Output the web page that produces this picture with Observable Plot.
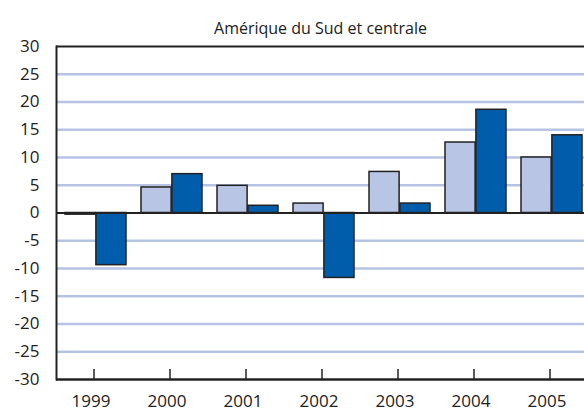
<!DOCTYPE html>
<html>
<head>
<meta charset="utf-8">
<script src="https://cdn.jsdelivr.net/npm/d3@7"></script>
<script src="https://cdn.jsdelivr.net/npm/@observablehq/plot@0.6"></script>
<style>
  html, body { margin: 0; padding: 0; background: white; }
  #chart { width: 584px; height: 412px; overflow: hidden; }
</style>
</head>
<body>
<div id="chart"></div>
<script>
const title = "Amérique du Sud et centrale";
const years = ["1999", "2000", "2001", "2002", "2003", "2004", "2005"];
const lightValues = [-0.3, 4.6, 4.9, 1.7, 7.4, 12.7, 10.0];
const darkValues = [-9.4, 7.0, 1.3, -11.7, 1.7, 18.6, 14.0];
const yTicks = [-30, -25, -20, -15, -10, -5, 0, 5, 10, 15, 20, 25, 30];
const gridTicks = [-25, -20, -15, -10, -5, 5, 10, 15, 20, 25];

const data = years.map((year, i) => ({year, light: lightValues[i], dark: darkValues[i]}));

const rangeX = [56, 592];
const pInner = 0.195, pOuter = 0.09;
const step = (rangeX[1] - rangeX[0]) / (years.length - pInner + 2 * pOuter);
const half = step * (1 - pInner) / 2;

const chart = Plot.plot({
  width: 584,
  height: 412,
  marginLeft: 56,
  marginRight: 0,
  marginTop: 46,
  marginBottom: 33,
  style: {fontFamily: "Open Sans", fontSize: "17px", color: "#222", background: "white", overflow: "hidden"},
  x: {type: "band", domain: years, range: rangeX, paddingInner: pInner, paddingOuter: pOuter, axis: null},
  y: {domain: [-30, 30], axis: null},
  marks: [
    Plot.ruleY(gridTicks, {stroke: "#b7c3e3", strokeWidth: 2.5}),
    Plot.barY(data, {x: "year", y: "light", fill: "#b9c5e4", stroke: "#222", strokeWidth: 1.5, insetRight: half}),
    Plot.barY(data, {x: "year", y: "dark", fill: "#005dab", stroke: "#222", strokeWidth: 1.5, insetLeft: half}),
    Plot.ruleY([0], {stroke: "#222", strokeWidth: 2}),
    Plot.ruleY([30], {stroke: "#222", strokeWidth: 2}),
    Plot.ruleY([-30], {stroke: "#222", strokeWidth: 2.5}),
    Plot.frame({anchor: "left", stroke: "#222", strokeWidth: 2}),
    Plot.ruleX(years, {x: d => d, y1: -30, y2: -28.2, stroke: "#222", strokeWidth: 1.5, dx: -2}),
    Plot.axisY({ticks: yTicks, tickSize: 0, tickPadding: 17, fontSize: 17, tickFormat: d => String(d), fill: "#222", label: null}),
    Plot.axisX({tickSize: 0, tickPadding: 15, fontSize: 17, dx: -5, fill: "#222", label: null}),
    Plot.text([title], {frameAnchor: "top", dy: -24, fontSize: 16, fill: "#222"})
  ]
});
document.getElementById("chart").appendChild(chart);
</script>
</body>
</html>
